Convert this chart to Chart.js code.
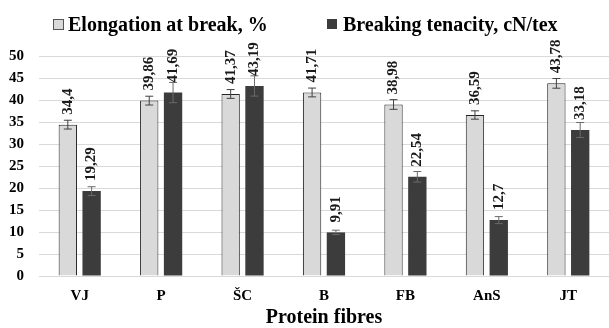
<!DOCTYPE html>
<html>
<head>
<meta charset="utf-8">
<script src="https://cdn.jsdelivr.net/npm/chart.js@4.4.0/dist/chart.umd.min.js"></script>
<style>
  html, body { margin: 0; padding: 0; background: #fff; }
  #wrap { position: relative; width: 609px; height: 328px; }
  .item { position: absolute; top: 14px; display: flex; align-items: center; white-space: nowrap;
          font-family: "Liberation Serif", "Times New Roman", serif; font-weight: bold; font-size: 20px;
          color: #000; line-height: 20px; }
  .box { box-sizing: border-box; display: inline-block; }
</style>
</head>
<body>
<div id="wrap">
  <canvas id="myChart" width="609" height="328"></canvas>
</div>
<script>
const categories = ["VJ", "P", "ŠC", "B", "FB", "AnS", "JT"];
const seriesNames = ["Elongation at break, %", "Breaking tenacity, cN/tex"];
const elongation = [34.4, 39.86, 41.37, 41.71, 38.98, 36.59, 43.78];
const elongationErr = [1.0, 1.0, 1.0, 1.0, 1.1, 0.95, 1.1];
const tenacity = [19.29, 41.69, 43.19, 9.91, 22.54, 12.7, 33.18];
const tenacityErr = [1.0, 2.3, 2.3, 0.5, 1.2, 0.8, 1.7];
const yMin = 0, yMax = 50, yStep = 5;

const serif = "'Liberation Serif', 'Times New Roman', serif";
const lightColor = "#d9d9d9";
const darkColor = "#3c3c3c";

function fmt(v){
    return String(v).replace(".", ",");
}

// error bars + rotated value labels
const barExtras = {
    id: "barExtras",
    afterDatasetsDraw(chart){
        const ctx = chart.ctx;
        const y = chart.scales.y;
        chart.data.datasets.forEach((ds, di) => {
            const meta = chart.getDatasetMeta(di);
            meta.data.forEach((bar, i) => {
                const v = ds.data[i];
                const e = ds.errors[i];
                const top = y.getPixelForValue(v + e);
                const bot = y.getPixelForValue(v - e);
                ctx.save();
                ctx.strokeStyle = di === 0 ? "#404040" : "#6a6a6a";
                ctx.lineWidth = 1;
                ctx.beginPath();
                ctx.moveTo(bar.x, top); ctx.lineTo(bar.x, bot);
                ctx.moveTo(bar.x - 4, top); ctx.lineTo(bar.x + 4, top);
                ctx.moveTo(bar.x - 4, bot); ctx.lineTo(bar.x + 4, bot);
                ctx.stroke();
                ctx.restore();

                ctx.save();
                ctx.translate(bar.x, bar.y - 10);
                ctx.rotate(-Math.PI / 2);
                ctx.font = "bold 15px " + serif;
                ctx.fillStyle = "#1a1a1a";
                ctx.textAlign = "left";
                ctx.textBaseline = "middle";
                ctx.fillText(fmt(v), 0, 0);
                ctx.restore();
            });
        });
    }
};

const chart = new Chart("myChart", {
    type: "bar",
    data: {
        labels: categories,
        datasets: [{
            label: seriesNames[0],
            data: elongation,
            errors: elongationErr,
            backgroundColor: lightColor,
            borderColor: "#262626",
            borderWidth: 1,
            categoryPercentage: 0.585,
            barPercentage: 0.77
        }, {
            label: seriesNames[1],
            data: tenacity,
            errors: tenacityErr,
            backgroundColor: darkColor,
            borderColor: darkColor,
            borderWidth: 0,
            categoryPercentage: 0.585,
            barPercentage: 0.77
        }]
    },
    options: {
        responsive: false,
        animation: false,
        layout: { padding: { top: 56, left: 0, right: -4, bottom: 0 } },
        plugins: {
            legend: { display: false },
            tooltip: { enabled: false }
        },
        scales: {
            x: {
                grid: { display: false, drawTicks: false },
                border: { display: false },
                ticks: { color: "#000", padding: 11, font: { family: serif, size: 15, weight: "bold" } },
                title: {
                    display: true,
                    text: "Protein fibres",
                    color: "#000",
                    font: { family: serif, size: 20, weight: "bold", lineHeight: 1 },
                    padding: { top: 0, bottom: 0 }
                },
                afterFit(scale){ scale.height = 52; }
            },
            y: {
                min: yMin,
                max: yMax,
                ticks: { stepSize: yStep, color: "#000", padding: 15, font: { family: serif, size: 15, weight: "bold" } },
                grid: { color: "#d9d9d9", lineWidth: 1, drawTicks: false },
                border: { display: false },
                afterFit(scale){ scale.width = 39; }
            }
        }
    },
    plugins: [barExtras]
});

// html legend built from the datasets
const legendLeft = [53, 327];
const wrap = document.getElementById("wrap");
chart.data.datasets.forEach((ds, i) => {
    const item = document.createElement("div");
    item.className = "item";
    item.style.left = legendLeft[i] + "px";
    const box = document.createElement("span");
    box.className = "box";
    const size = i === 0 ? 11 : 10;
    box.style.width = size + "px";
    box.style.height = size + "px";
    box.style.background = ds.backgroundColor;
    box.style.border = i === 0 ? "1px solid #555" : "none";
    box.style.marginRight = i === 0 ? "4px" : "6px";
    const txt = document.createElement("span");
    txt.textContent = ds.label;
    item.appendChild(box);
    item.appendChild(txt);
    wrap.appendChild(item);
});
</script>
</body>
</html>
